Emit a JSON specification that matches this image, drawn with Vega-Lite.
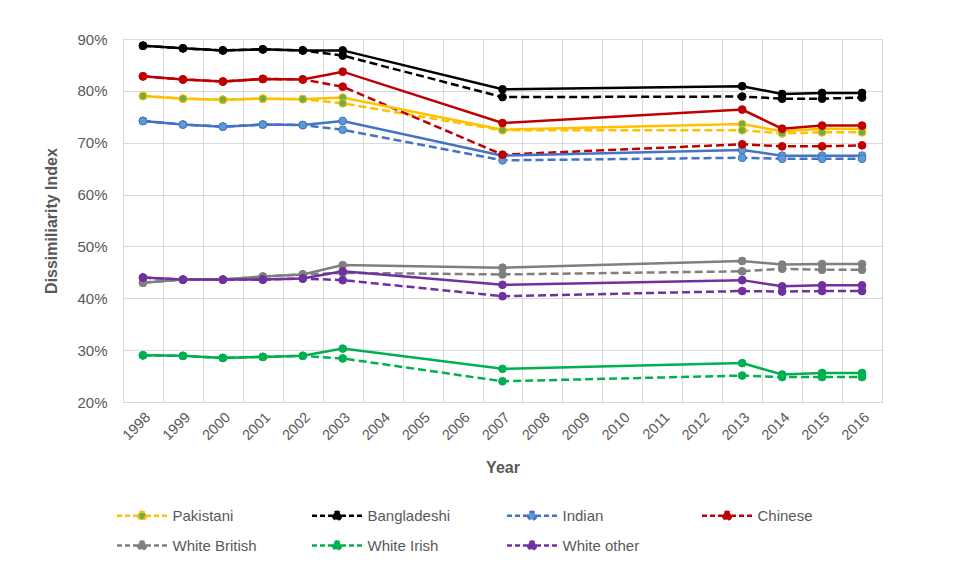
{
  "$schema": "https://vega.github.io/schema/vega-lite/v6.json",
  "width": 759,
  "height": 363,
  "autosize": {"type": "none"},
  "padding": {"left": 123, "top": 39, "right": 80, "bottom": 174},
  "background": "white",
  "config": {
    "view": {"stroke": "#d9d9d9", "strokeWidth": 1},
    "font": "Liberation Sans",
    "axis": {"labelColor": "#595959", "titleColor": "#595959", "gridColor": "#d9d9d9", "gridWidth": 1, "labelFont": "Liberation Sans", "titleFont": "Liberation Sans"}
  },
  "data": {"values": [
    {"g":"Pakistani","s":"solid","year":1998,"v":0.790},{"g":"Pakistani","s":"solid","year":1999,"v":0.785},{"g":"Pakistani","s":"solid","year":2000,"v":0.783},{"g":"Pakistani","s":"solid","year":2001,"v":0.785},{"g":"Pakistani","s":"solid","year":2002,"v":0.784},{"g":"Pakistani","s":"solid","year":2003,"v":0.787},{"g":"Pakistani","s":"solid","year":2007,"v":0.725},{"g":"Pakistani","s":"solid","year":2013,"v":0.736},{"g":"Pakistani","s":"solid","year":2014,"v":0.722},{"g":"Pakistani","s":"solid","year":2015,"v":0.727},{"g":"Pakistani","s":"solid","year":2016,"v":0.727},
    {"g":"Pakistani","s":"dashed","year":1998,"v":0.790},{"g":"Pakistani","s":"dashed","year":1999,"v":0.785},{"g":"Pakistani","s":"dashed","year":2000,"v":0.783},{"g":"Pakistani","s":"dashed","year":2001,"v":0.785},{"g":"Pakistani","s":"dashed","year":2002,"v":0.784},{"g":"Pakistani","s":"dashed","year":2003,"v":0.776},{"g":"Pakistani","s":"dashed","year":2007,"v":0.724},{"g":"Pakistani","s":"dashed","year":2013,"v":0.724},{"g":"Pakistani","s":"dashed","year":2014,"v":0.718},{"g":"Pakistani","s":"dashed","year":2015,"v":0.720},{"g":"Pakistani","s":"dashed","year":2016,"v":0.720},
    {"g":"Bangladeshi","s":"solid","year":1998,"v":0.887},{"g":"Bangladeshi","s":"solid","year":1999,"v":0.882},{"g":"Bangladeshi","s":"solid","year":2000,"v":0.878},{"g":"Bangladeshi","s":"solid","year":2001,"v":0.880},{"g":"Bangladeshi","s":"solid","year":2002,"v":0.878},{"g":"Bangladeshi","s":"solid","year":2003,"v":0.878},{"g":"Bangladeshi","s":"solid","year":2007,"v":0.803},{"g":"Bangladeshi","s":"solid","year":2013,"v":0.809},{"g":"Bangladeshi","s":"solid","year":2014,"v":0.794},{"g":"Bangladeshi","s":"solid","year":2015,"v":0.796},{"g":"Bangladeshi","s":"solid","year":2016,"v":0.796},
    {"g":"Bangladeshi","s":"dashed","year":1998,"v":0.887},{"g":"Bangladeshi","s":"dashed","year":1999,"v":0.882},{"g":"Bangladeshi","s":"dashed","year":2000,"v":0.878},{"g":"Bangladeshi","s":"dashed","year":2001,"v":0.880},{"g":"Bangladeshi","s":"dashed","year":2002,"v":0.878},{"g":"Bangladeshi","s":"dashed","year":2003,"v":0.868},{"g":"Bangladeshi","s":"dashed","year":2007,"v":0.788},{"g":"Bangladeshi","s":"dashed","year":2013,"v":0.789},{"g":"Bangladeshi","s":"dashed","year":2014,"v":0.785},{"g":"Bangladeshi","s":"dashed","year":2015,"v":0.785},{"g":"Bangladeshi","s":"dashed","year":2016,"v":0.787},
    {"g":"Indian","s":"solid","year":1998,"v":0.742},{"g":"Indian","s":"solid","year":1999,"v":0.735},{"g":"Indian","s":"solid","year":2000,"v":0.731},{"g":"Indian","s":"solid","year":2001,"v":0.735},{"g":"Indian","s":"solid","year":2002,"v":0.734},{"g":"Indian","s":"solid","year":2003,"v":0.742},{"g":"Indian","s":"solid","year":2007,"v":0.675},{"g":"Indian","s":"solid","year":2013,"v":0.686},{"g":"Indian","s":"solid","year":2014,"v":0.675},{"g":"Indian","s":"solid","year":2015,"v":0.675},{"g":"Indian","s":"solid","year":2016,"v":0.675},
    {"g":"Indian","s":"dashed","year":1998,"v":0.742},{"g":"Indian","s":"dashed","year":1999,"v":0.735},{"g":"Indian","s":"dashed","year":2000,"v":0.731},{"g":"Indian","s":"dashed","year":2001,"v":0.735},{"g":"Indian","s":"dashed","year":2002,"v":0.734},{"g":"Indian","s":"dashed","year":2003,"v":0.725},{"g":"Indian","s":"dashed","year":2007,"v":0.666},{"g":"Indian","s":"dashed","year":2013,"v":0.671},{"g":"Indian","s":"dashed","year":2014,"v":0.669},{"g":"Indian","s":"dashed","year":2015,"v":0.669},{"g":"Indian","s":"dashed","year":2016,"v":0.669},
    {"g":"Chinese","s":"solid","year":1998,"v":0.828},{"g":"Chinese","s":"solid","year":1999,"v":0.822},{"g":"Chinese","s":"solid","year":2000,"v":0.818},{"g":"Chinese","s":"solid","year":2001,"v":0.823},{"g":"Chinese","s":"solid","year":2002,"v":0.822},{"g":"Chinese","s":"solid","year":2003,"v":0.837},{"g":"Chinese","s":"solid","year":2007,"v":0.738},{"g":"Chinese","s":"solid","year":2013,"v":0.764},{"g":"Chinese","s":"solid","year":2014,"v":0.727},{"g":"Chinese","s":"solid","year":2015,"v":0.733},{"g":"Chinese","s":"solid","year":2016,"v":0.733},
    {"g":"Chinese","s":"dashed","year":1998,"v":0.828},{"g":"Chinese","s":"dashed","year":1999,"v":0.822},{"g":"Chinese","s":"dashed","year":2000,"v":0.818},{"g":"Chinese","s":"dashed","year":2001,"v":0.823},{"g":"Chinese","s":"dashed","year":2002,"v":0.822},{"g":"Chinese","s":"dashed","year":2003,"v":0.808},{"g":"Chinese","s":"dashed","year":2007,"v":0.677},{"g":"Chinese","s":"dashed","year":2013,"v":0.697},{"g":"Chinese","s":"dashed","year":2014,"v":0.693},{"g":"Chinese","s":"dashed","year":2015,"v":0.693},{"g":"Chinese","s":"dashed","year":2016,"v":0.695},
    {"g":"White British","s":"solid","year":1998,"v":0.430},{"g":"White British","s":"solid","year":1999,"v":0.436},{"g":"White British","s":"solid","year":2000,"v":0.436},{"g":"White British","s":"solid","year":2001,"v":0.442},{"g":"White British","s":"solid","year":2002,"v":0.446},{"g":"White British","s":"solid","year":2003,"v":0.464},{"g":"White British","s":"solid","year":2007,"v":0.459},{"g":"White British","s":"solid","year":2013,"v":0.472},{"g":"White British","s":"solid","year":2014,"v":0.465},{"g":"White British","s":"solid","year":2015,"v":0.466},{"g":"White British","s":"solid","year":2016,"v":0.466},
    {"g":"White British","s":"dashed","year":1998,"v":0.430},{"g":"White British","s":"dashed","year":1999,"v":0.436},{"g":"White British","s":"dashed","year":2000,"v":0.436},{"g":"White British","s":"dashed","year":2001,"v":0.442},{"g":"White British","s":"dashed","year":2002,"v":0.446},{"g":"White British","s":"dashed","year":2003,"v":0.449},{"g":"White British","s":"dashed","year":2007,"v":0.446},{"g":"White British","s":"dashed","year":2013,"v":0.452},{"g":"White British","s":"dashed","year":2014,"v":0.457},{"g":"White British","s":"dashed","year":2015,"v":0.455},{"g":"White British","s":"dashed","year":2016,"v":0.455},
    {"g":"White Irish","s":"solid","year":1998,"v":0.290},{"g":"White Irish","s":"solid","year":1999,"v":0.289},{"g":"White Irish","s":"solid","year":2000,"v":0.285},{"g":"White Irish","s":"solid","year":2001,"v":0.287},{"g":"White Irish","s":"solid","year":2002,"v":0.289},{"g":"White Irish","s":"solid","year":2003,"v":0.303},{"g":"White Irish","s":"solid","year":2007,"v":0.264},{"g":"White Irish","s":"solid","year":2013,"v":0.275},{"g":"White Irish","s":"solid","year":2014,"v":0.253},{"g":"White Irish","s":"solid","year":2015,"v":0.256},{"g":"White Irish","s":"solid","year":2016,"v":0.256},
    {"g":"White Irish","s":"dashed","year":1998,"v":0.290},{"g":"White Irish","s":"dashed","year":1999,"v":0.289},{"g":"White Irish","s":"dashed","year":2000,"v":0.285},{"g":"White Irish","s":"dashed","year":2001,"v":0.287},{"g":"White Irish","s":"dashed","year":2002,"v":0.289},{"g":"White Irish","s":"dashed","year":2003,"v":0.284},{"g":"White Irish","s":"dashed","year":2007,"v":0.240},{"g":"White Irish","s":"dashed","year":2013,"v":0.251},{"g":"White Irish","s":"dashed","year":2014,"v":0.248},{"g":"White Irish","s":"dashed","year":2015,"v":0.248},{"g":"White Irish","s":"dashed","year":2016,"v":0.248},
    {"g":"White other","s":"solid","year":1998,"v":0.440},{"g":"White other","s":"solid","year":1999,"v":0.436},{"g":"White other","s":"solid","year":2000,"v":0.436},{"g":"White other","s":"solid","year":2001,"v":0.436},{"g":"White other","s":"solid","year":2002,"v":0.438},{"g":"White other","s":"solid","year":2003,"v":0.452},{"g":"White other","s":"solid","year":2007,"v":0.426},{"g":"White other","s":"solid","year":2013,"v":0.435},{"g":"White other","s":"solid","year":2014,"v":0.423},{"g":"White other","s":"solid","year":2015,"v":0.425},{"g":"White other","s":"solid","year":2016,"v":0.425},
    {"g":"White other","s":"dashed","year":1998,"v":0.440},{"g":"White other","s":"dashed","year":1999,"v":0.436},{"g":"White other","s":"dashed","year":2000,"v":0.436},{"g":"White other","s":"dashed","year":2001,"v":0.436},{"g":"White other","s":"dashed","year":2002,"v":0.438},{"g":"White other","s":"dashed","year":2003,"v":0.435},{"g":"White other","s":"dashed","year":2007,"v":0.404},{"g":"White other","s":"dashed","year":2013,"v":0.414},{"g":"White other","s":"dashed","year":2014,"v":0.413},{"g":"White other","s":"dashed","year":2015,"v":0.414},{"g":"White other","s":"dashed","year":2016,"v":0.414}
  ]},
  "encoding": {
    "x": {
      "field": "year", "type": "ordinal", "bandPosition": 0.5,
      "scale": {"type": "band", "paddingInner": 0, "paddingOuter": 0, "domain": [1998,1999,2000,2001,2002,2003,2004,2005,2006,2007,2008,2009,2010,2011,2012,2013,2014,2015,2016]},
      "axis": {"title": "Year", "titleFontSize": 16, "titleFontWeight": "bold", "titlePadding": 17, "labelAngle": -45, "labelFontSize": 14.5, "labelPadding": 8, "grid": true, "tickBand": "extent", "ticks": false, "tickSize": 0, "domain": false}
    },
    "y": {
      "field": "v", "type": "quantitative",
      "scale": {"domain": [0.2, 0.9], "nice": false, "zero": false},
      "axis": {"title": "Dissimiliarity Index", "titleFontSize": 16, "titleFontWeight": "bold", "titlePadding": 17, "format": ".0%", "values": [0.2,0.3,0.4,0.5,0.6,0.7,0.8,0.9], "labelFontSize": 15, "labelPadding": 16, "ticks": false, "tickSize": 0, "domain": false, "grid": true}
    }
  },
  "layer": [
    {
      "transform": [{"filter": "datum.s === 'dashed'"}],
      "mark": {"type": "line", "strokeWidth": 2.5, "strokeDash": [8, 4]},
      "encoding": {
        "color": {"field": "g", "type": "nominal",
          "scale": {"domain": ["Pakistani","Bangladeshi","Indian","Chinese","White British","White Irish","White other"], "range": ["#ffc000","#000000","#4472c4","#c00000","#7f7f7f","#00b050","#7030a0"]},
          "legend": {"title": null, "orient": "none", "legendX": -6, "legendY": 465, "direction": "horizontal", "columns": 4, "gridAlign": "all", "columnPadding": 50, "rowPadding": 9, "padding": 0,
            "symbolType": "M-2.5,0H-0.4M0.4,0H2.5M0.4,0A0.4,0.4,0,1,1,-0.4,0A0.4,0.4,0,1,1,0.4,0Z", "symbolSize": 400, "symbolStrokeWidth": 2.5, "symbolDash": [5, 3], "symbolOffset": 13.5, "labelOffset": 19, "labelFontSize": 15, "labelColor": "#595959", "labelFont": "Liberation Sans", "symbolOpacity": 1,
            "encode": {"symbols": {"update": {"fill": {"scale": "fill", "field": "value"}, "stroke": {"scale": "color", "field": "value"}, "strokeDash": {"value": [5, 3]}, "opacity": {"value": 1}}}}}}
      }
    },
    {
      "transform": [{"filter": "datum.s === 'solid'"}],
      "mark": {"type": "line", "strokeWidth": 2.5},
      "encoding": {
        "color": {"field": "g", "type": "nominal"}
      }
    },
    {
      "mark": {"type": "point", "filled": true, "size": 60, "strokeWidth": 1, "opacity": 1},
      "encoding": {
        "fill": {"field": "g", "type": "nominal", "legend": null,
          "scale": {"domain": ["Pakistani","Bangladeshi","Indian","Chinese","White British","White Irish","White other"], "range": ["#70ad47","#000000","#5b9bd5","#c00000","#7f7f7f","#00b050","#7030a0"]}},
        "stroke": {"field": "g", "type": "nominal", "legend": null,
          "scale": {"domain": ["Pakistani","Bangladeshi","Indian","Chinese","White British","White Irish","White other"], "range": ["#ffc000","#000000","#4472c4","#c00000","#7f7f7f","#00b050","#7030a0"]}}
      }
    }
  ]
}
